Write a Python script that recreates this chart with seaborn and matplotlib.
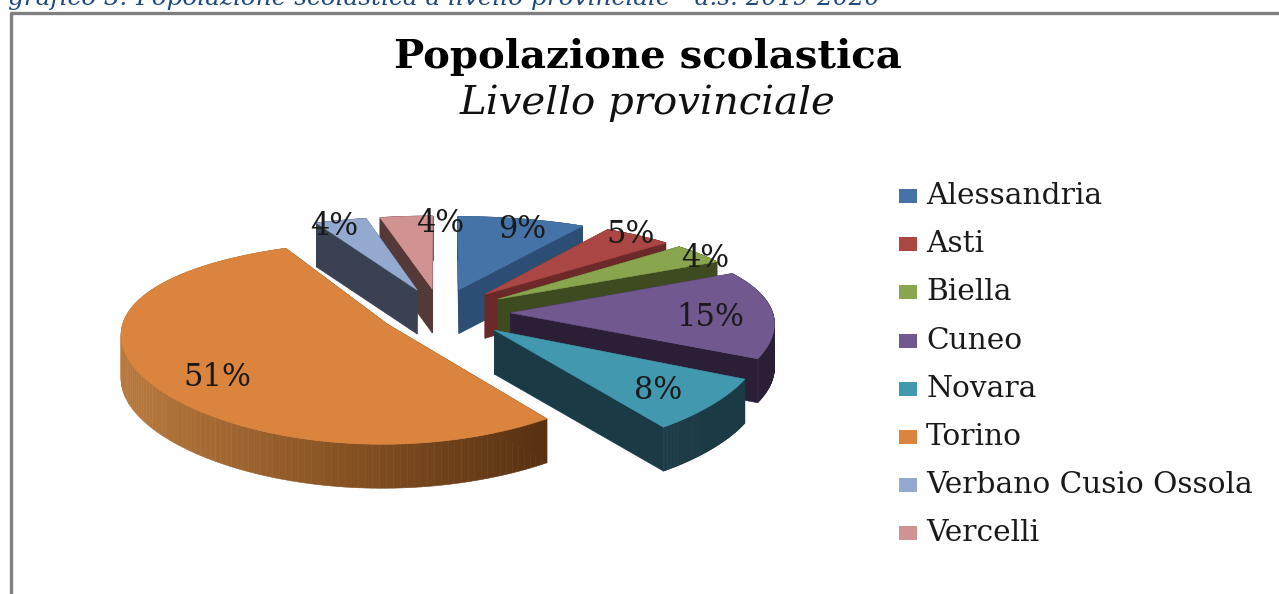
import numpy as np
import seaborn as sns
import matplotlib.pyplot as plt
from matplotlib.patches import Polygon, Rectangle

# data
province = ['Alessandria', 'Asti', 'Biella', 'Cuneo', 'Novara', 'Torino',
            'Verbano Cusio Ossola', 'Vercelli']
etichette = ['9%', '5%', '4%', '15%', '8%', '51%', '4%', '4%']
# slice sizes as they look in the drawing
share = [8.8, 4.8, 3.9, 14.9, 7.9, 52.6, 3.5, 3.6]
colori = ['#4572A7', '#AA4643', '#89A54E', '#71588F', '#4198AF', '#DB843D',
          '#93A9CF', '#D19392']
pareti = ['#2C4D74', '#6B2A29', '#3E4A20', '#2B1F38', '#1A3A46', '#5A3212',
          '#3A4152', '#553838']

sns.set_theme(style='white')
plt.rcParams['font.family'] = ['DejaVu Serif']

# pie geometry, pixels
cx, cy = 440, 313
a, b = 262, 94
persp_x, persp_y = 0.09, 0.18
alto = 44
stacco = [0.27, 0.27, 0.27, 0.27, 0.27, 0.23, 0.27, 0.27]


def proj(theta, r, ox=0.0, oy=0.0, z=0.0):
    # theta clockwise from the top, oy grows towards the viewer
    u = ox + r * np.sin(theta)
    v = oy - r * np.cos(theta)
    return np.column_stack((cx + a * u / (1 - persp_x * v), cy + b * v / (1 - persp_y * v) + z))


fig = plt.figure(figsize=(12.79, 5.94), dpi=100)
ax = fig.add_axes([0, 0, 1, 1])
ax.set_xlim(0, 1279)
ax.set_ylim(594, 0)
ax.axis('off')

# grey frame, open on the right and at the bottom
ax.plot([10.5, 10.5, 1279], [594, 13, 13], color='#7F7F7F', lw=2.4, zorder=1)
ax.text(8, 5, 'grafico 3: Popolazione scolastica a livello provinciale - a.s. 2019-2020',
        color='#1F497D', style='italic', fontsize=17.8, va='baseline', ha='left')
ax.text(648, 57, 'Popolazione scolastica', fontsize=29, weight='bold', ha='center',
        va='center', color='black')
ax.text(648, 103, 'Livello provinciale', fontsize=29, style='italic', ha='center',
        va='center', color='#111111')

limiti = np.cumsum([0] + share) / sum(share) * 2 * np.pi
medi = (limiti[:-1] + limiti[1:]) / 2
# back pieces first, so the front ones cover them
ordine = np.argsort(-np.cos(medi))
for k, i in enumerate(ordine):
    t0, t1 = limiti[i], limiti[i + 1]
    ox = stacco[i] * np.sin(medi[i])
    oy = -stacco[i] * np.cos(medi[i])
    zo = 10 + k * 3
    tt = np.linspace(t0, t1, 140)
    bordo = proj(tt, 1, ox, oy)
    centro = proj(np.array([t0]), 0, ox, oy)
    for t in (t0, t1):
        p = np.vstack((proj(np.array([t]), 0, ox, oy), proj(np.array([t]), 1, ox, oy)))
        giu = p[::-1] + [0, alto]
        ax.add_patch(Polygon(np.vstack((p, giu)), fc=pareti[i], ec=pareti[i], lw=0.4, zorder=zo))
    # rim as thin strips; Torino fades from light on the left to dark on the right
    chiaro = sns.blend_palette(['#B97A3E', '#8A5424', pareti[i]], 70) if province[i] == 'Torino' else None
    for j in range(len(tt) - 1):
        q = bordo[j:j + 2]
        colore = pareti[i]
        if chiaro is not None:
            pos = (q[0, 0] - 118) / (545 - 118)
            colore = chiaro[int(np.clip(pos, 0, 0.999) * 70)]
        ax.add_patch(Polygon(np.vstack((q, q[::-1] + [0, alto])), fc=colore, ec=colore,
                             lw=0.4, zorder=zo + 1))
    ax.add_patch(Polygon(np.vstack((centro, bordo)), fc=colori[i], ec=colori[i], lw=0.4,
                         zorder=zo + 2))

# percentage labels
raggio = [0.72, 0.88, 0.92, 0.66, 0.6, 0.68, 0.95, 0.88]
spost_x = [17, 10, 21, 27, 36, -8, -10, 31]
spost_y = [-7, -7, 1, 5, 18, 18, 3, 0]
for i in range(len(share)):
    ox = stacco[i] * np.sin(medi[i])
    oy = -stacco[i] * np.cos(medi[i])
    p = proj(np.array([medi[i]]), raggio[i], ox, oy)[0]
    ax.text(p[0] + spost_x[i], p[1] + spost_y[i], etichette[i], fontsize=22, ha='center',
            va='center', color='#1A1A1A', zorder=60)

# legend
for i, nome in enumerate(province):
    y = 196 + i * 48.2
    ax.add_patch(Rectangle((899, y - 7), 18, 14, fc=colori[i], ec='none', zorder=5))
    ax.text(926, y, nome, fontsize=21.3, ha='left', va='center', color='#1A1A1A')

fig.savefig('out.png', dpi=100)
